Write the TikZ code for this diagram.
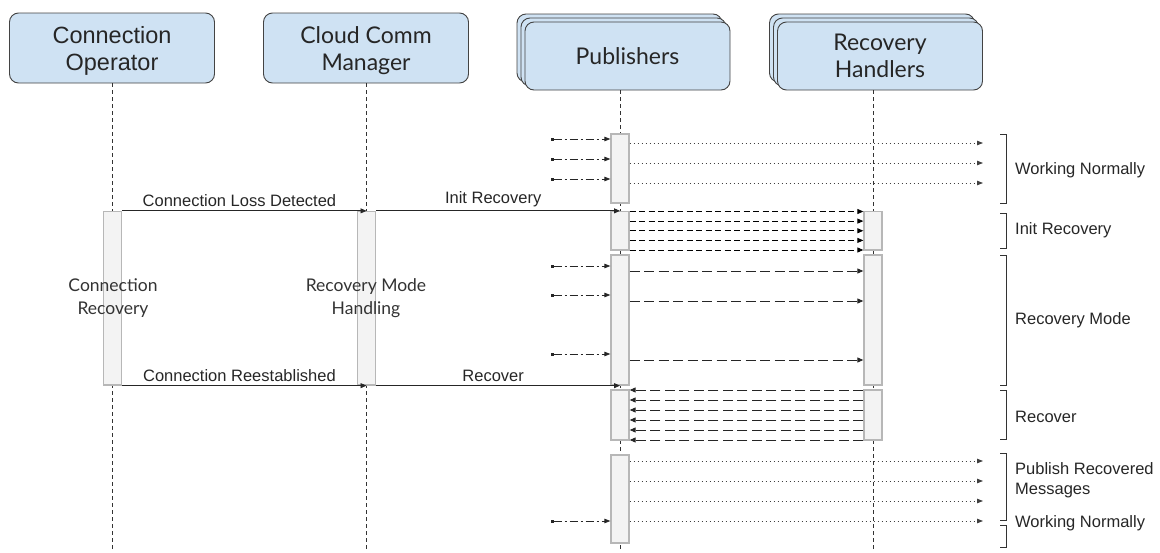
\documentclass[tikz,border=0pt]{standalone}
\usepackage{fontspec}
\setmainfont{Liberation Sans}
\newfontfamily\latofont{Lato}
\usetikzlibrary{arrows.meta,shadows}
\definecolor{headblue}{HTML}{CFE2F3}
\definecolor{headline}{HTML}{434343}
\definecolor{barfill}{HTML}{F3F3F3}
\definecolor{barline}{HTML}{B7B7B7}
\begin{document}
\begin{tikzpicture}[x=1pt, y=-1pt,
  head/.style={draw=headline, fill=headblue, rounded corners=9pt, line width=0.9pt, minimum width=205pt, minimum height=70pt, align=center, text=black!85, font=\latofont\fontsize{23}{27}\selectfont},
  stackhead/.style={head, minimum height=68pt, double copy shadow={shadow xshift=-4pt, shadow yshift=4pt}},
  life/.style={draw=black!80, line width=0.7pt, dash pattern=on 4pt off 3pt},
  actbar/.style={draw=barline, fill=barfill, line width=1.3pt, minimum width=18pt, inner sep=0pt},
  msg/.style={-{Triangle[length=6pt,width=5pt]}, line width=0.8pt, draw=black!85},
  feed/.style={{Square[length=3pt,width=3pt]}-{Triangle[length=6pt,width=4.5pt]}, line width=0.8pt, draw=black!85, dash pattern=on 8pt off 3pt on 2pt off 3pt},
  dotmsg/.style={-{Triangle[length=6pt,width=4.5pt]}, line width=0.9pt, draw=black!75, dash pattern=on 1.2pt off 2.8pt},
  shortdash/.style={-{Triangle[length=6pt,width=5pt]}, line width=0.9pt, draw=black, dash pattern=on 6pt off 3.5pt},
  longdash/.style={-{Triangle[length=6pt,width=5pt]}, line width=0.9pt, draw=black!85, dash pattern=on 10pt off 4.5pt},
  lbl/.style={above, pos=0.48, text=black!85, font=\fontsize{16.5}{19}\selectfont},
  midtext/.style={align=center, text=black!80, font=\latofont\fontsize{17.5}{23}\selectfont},
  brk/.style={draw=black!80, line width=0.9pt},
  phase/.style={anchor=west, inner sep=0pt, align=left, text=black!85, font=\fontsize{16.5}{20}\selectfont}]
\useasboundingbox (0,0) rectangle (1160,552);
\node[head, font=\fontsize{23.5}{27}\selectfont] (conop) at (112,48) {\rule{0pt}{22pt}Connection\\Operator};
\node[head] (cloud) at (366,48) {\rule{0pt}{22pt}Cloud Comm\\Manager};
\node[stackhead] (pubs) at (627.5,56) {Publishers};
\node[stackhead] (handlers) at (880,56) {Recovery\\Handlers};
\coordinate (conend) at (112.5,552);
\coordinate (cloudend) at (366.5,552);
\coordinate (pubend) at (620,552);
\coordinate (rhend) at (873,552);
\draw[life] (conop.south -| conend) -- (conend);
\draw[life] (cloud.south -| cloudend) -- (cloudend);
\draw[life] (pubs.south -| pubend) -- (pubend);
\draw[life] (handlers.south -| rhend) -- (rhend);
\node[actbar, minimum height=173.5pt] (conbar) at (112.5,298.25) {};
\node[actbar, minimum height=173.5pt] (mgrbar) at (366.5,298.25) {};
\node[actbar, minimum height=69pt] (pub1) at (620,168.5) {};
\node[actbar, minimum height=38.5pt] (pub2) at (620,230.75) {};
\node[actbar, minimum height=130pt] (pub3) at (620,320) {};
\node[actbar, minimum height=50pt] (pub4) at (620,415) {};
\node[actbar, minimum height=88pt] (pub5) at (620,499) {};
\node[actbar, minimum height=38.5pt] (rh1) at (873,230.75) {};
\node[actbar, minimum height=130pt] (rh2) at (873,320) {};
\node[actbar, minimum height=50pt] (rh3) at (873,415) {};
\node[midtext] (conrec) at (113,298.5) {Connection\\Recovery};
\node[midtext] (modehand) at (366,298.5) {Recovery Mode\\Handling};
\coordinate (src) at (551,0);
\coordinate (sink) at (983,0);
\draw[msg] (conbar.north east) -- node[lbl] (losslbl) {Connection Loss Detected} (mgrbar.north);
\draw[msg] (mgrbar.north east) -- node[lbl] (initlbl) {Init Recovery} (pub2.north);
\draw[msg] (conbar.south east) -- node[lbl] (reestlbl) {Connection Reestablished} (mgrbar.south);
\draw[msg] (mgrbar.south east) -- node[lbl] (recovlbl) {Recover} (pub3.south);
\foreach \y in {139,159,179} \draw[feed] (src |- 0,\y) -- (pub1.west |- 0,\y);
\foreach \y in {143,163,183} \draw[dotmsg] (pub1.east |- 0,\y) -- (sink |- 0,\y);
\foreach \y in {211.5,221.1,230.75,240.4,250} \draw[shortdash] (pub2.east |- 0,\y) -- (rh1.west |- 0,\y);
\foreach \y in {266,295,354} \draw[feed] (src |- 0,\y) -- (pub3.west |- 0,\y);
\foreach \y in {271,301,360} \draw[longdash] (pub3.east |- 0,\y) -- (rh2.west |- 0,\y);
\foreach \y in {390,400,...,440} \draw[longdash] (rh3.west |- 0,\y) -- (pub4.east |- 0,\y);
\foreach \y in {461,481,501,521} \draw[dotmsg] (pub5.east |- 0,\y) -- (sink |- 0,\y);
\draw[feed] (src |- 0,521) -- (pub5.west |- 0,521);
\foreach \a/\b in {134/203, 213/248, 255/385, 390/439, 453/520, 525/547}
  \draw[brk] (1000,\a) -- (1006,\a) -- (1006,\b) -- (1000,\b);
\node[phase] (work1) at (1015,170) {Working Normally};
\node[phase] (init) at (1015,230) {Init Recovery};
\node[phase] (mode) at (1015,320) {Recovery Mode};
\node[phase] (recov) at (1015,417) {Recover};
\node[phase] (publish) at (1015,480.5) {Publish Recovered\\Messages};
\node[phase] (work2) at (1015,523) {Working Normally};
\end{tikzpicture}
\end{document}
